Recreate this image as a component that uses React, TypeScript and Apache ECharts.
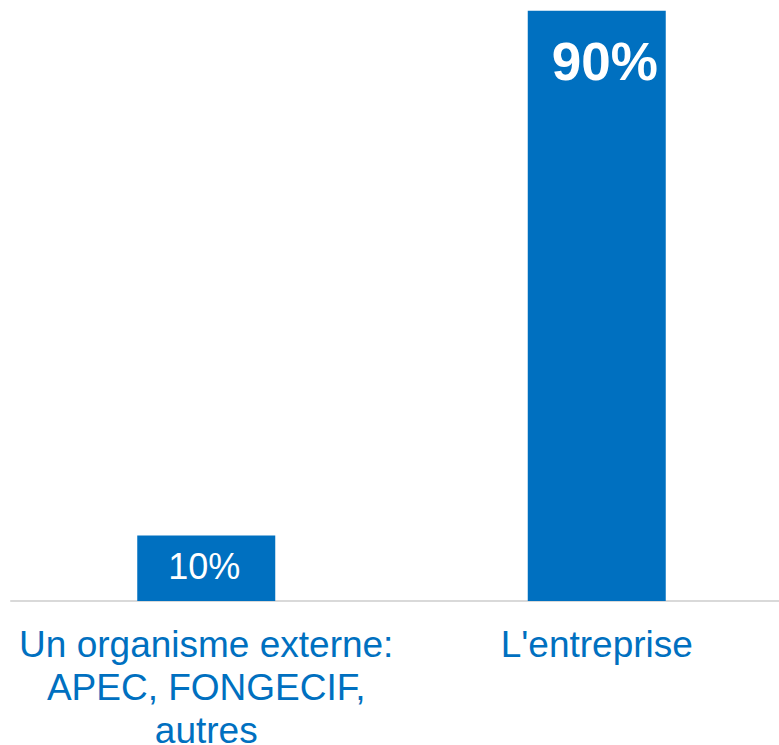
import React, { useEffect, useRef } from "react";
import * as echarts from "echarts";

const categories = ["Un organisme externe:\nAPEC, FONGECIF,\nautres", "L'entreprise"];
const values = [10, 90];
const valueLabels = ["10%", "90%"];

const BLUE = "#0070C0";
const FONT = "'Liberation Sans', Arial, sans-serif";

export default function App() {
  const ref = useRef<HTMLDivElement>(null);
  useEffect(() => {
    if (!ref.current) return;
    const chart = echarts.init(ref.current, null, { renderer: "svg" });
    chart.setOption({
      animation: false,
      backgroundColor: "#ffffff",
      grid: {
        left: 11,
        width: 781,
        top: 10.7,
        height: 590.3,
        containLabel: false,
        outerBoundsMode: "none",
      },
      xAxis: {
        type: "category",
        data: categories,
        axisLine: { show: true, lineStyle: { color: "#D9D9D9", width: 2 } },
        axisTick: { show: false },
        axisLabel: {
          interval: 0,
          color: BLUE,
          fontFamily: FONT,
          fontSize: 37,
          lineHeight: 43,
          margin: 22,
          align: "center",
        },
      },
      yAxis: { type: "value", min: 0, max: 90, show: false, splitLine: { show: false } },
      series: [
        {
          type: "bar",
          barWidth: 138,
          data: values.map((v, i) => ({
            value: v,
            label: {
              show: true,
              position: "insideTop",
              distance: i === 1 ? 24 : 13,
              offset: i === 1 ? [8, 0] : [-2, 0],
              formatter: () => valueLabels[i],
              color: "#ffffff",
              fontFamily: FONT,
              fontSize: i === 1 ? 53 : 36,
              fontWeight: i === 1 ? "bold" : "normal",
            },
          })),
          itemStyle: { color: BLUE },
        },
      ],
    });
    return () => chart.dispose();
  }, []);
  return (
    <div style={{ position: "absolute", left: 0, top: 0, width: 779, height: 745, overflow: "hidden", background: "#fff" }}>
      <div ref={ref} style={{ width: 800, height: 745 }} />
    </div>
  );
}
